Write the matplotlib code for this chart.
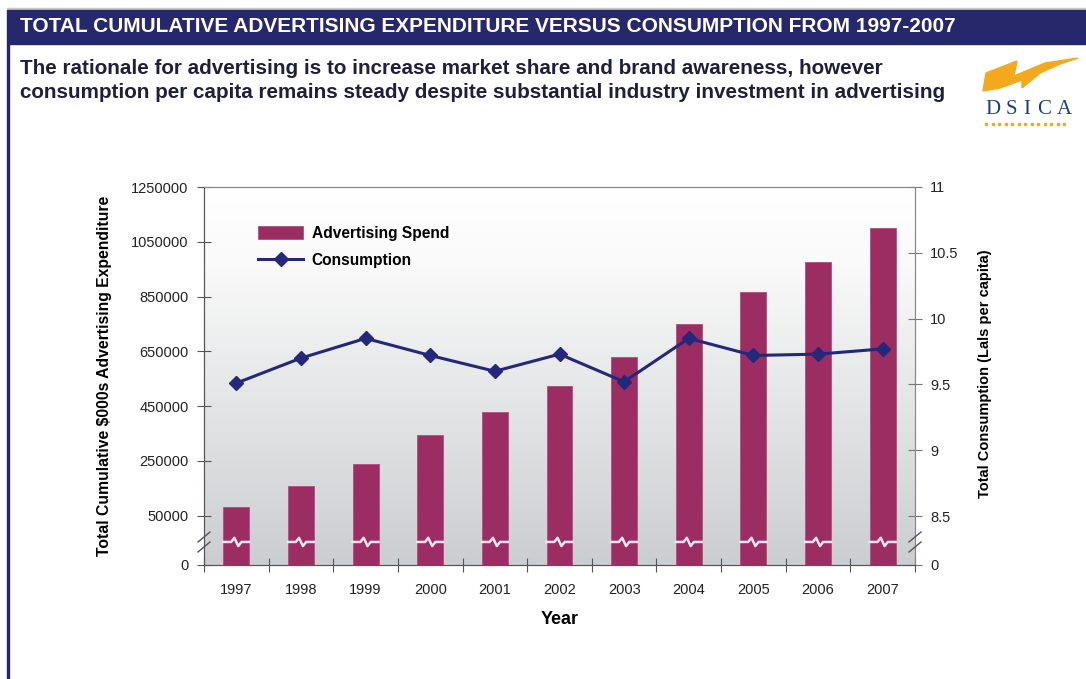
import numpy as np
import matplotlib
matplotlib.use('Agg')
import matplotlib.pyplot as plt
import matplotlib.transforms as mtransforms
from matplotlib.colors import LinearSegmentedColormap
from matplotlib.patches import Rectangle, Polygon, Patch
from matplotlib.lines import Line2D

plt.rcParams['font.family'] = ['Liberation Sans', 'DejaVu Sans']

years = ['1997', '1998', '1999', '2000', '2001', '2002', '2003', '2004', '2005', '2006', '2007']
spend = [80000, 160000, 237000, 343000, 430000, 522000, 628000, 749000, 866000, 976000, 1100000]
consumption = [9.51, 9.70, 9.85, 9.72, 9.60, 9.73, 9.52, 9.85, 9.72, 9.73, 9.77]

left_ticks = [50000, 250000, 450000, 650000, 850000, 1050000, 1250000]
right_ticks = [8.5, 9, 9.5, 10, 10.5, 11]
right_labels = ['8.5', '9', '9.5', '10', '10.5', '11']
# both axes are broken: the bottom of each axis is labelled 0
left_floor = -130000
right_floor = 8.128

title = 'TOTAL CUMULATIVE ADVERTISING EXPENDITURE VERSUS CONSUMPTION FROM 1997-2007'
subtitle = ['The rationale for advertising is to increase market share and brand awareness, however',
            'consumption per capita remains steady despite substantial industry investment in advertising']

navy = '#27276b'
bar_color = '#9b2d62'
line_color = '#23287a'
orange = '#f4a81d'

W, H = 1086, 679
fig = plt.figure(figsize=(W / 100, H / 100), dpi=100)


def fx(x):
    return x / W


def fy(y):
    return 1 - y / H


# header band and left border
fig.patches.append(Rectangle((fx(7), fy(9)), 1, 1 / H, transform=fig.transFigure, color='#c8c8d0', zorder=0))
fig.patches.append(Rectangle((fx(7), fy(44)), 1, 34 / H, transform=fig.transFigure, color=navy, zorder=0))
fig.patches.append(Rectangle((fx(7), 0), 2 / W, fy(44), transform=fig.transFigure, color=navy, zorder=0))
fig.text(fx(20), fy(27), title, color='white', fontsize=15, fontweight='bold', va='center', ha='left')
fig.text(fx(20), fy(68), subtitle[0], color='#1f1f3a', fontsize=14.85, fontweight='bold', va='center')
fig.text(fx(20), fy(93), subtitle[1], color='#1f1f3a', fontsize=14.85, fontweight='bold', va='center')

# logo
swoosh = [(983, 91), (986, 73), (1017, 61), (1014, 76), (1045, 63), (1078, 58),
          (1060, 64), (1040, 73), (1022, 88), (1022, 80), (1000, 88)]
fig.patches.append(Polygon([(fx(a), fy(b)) for a, b in swoosh], closed=True,
                           transform=fig.transFigure, color=orange, zorder=1))
for ch, xpos in zip('DSICA', [993, 1011, 1027, 1044, 1064]):
    fig.text(fx(xpos), fy(110), ch, family=['Liberation Serif'], fontsize=15, color='#1f3f7a',
             ha='center', va='center')
dots = np.arange(986, 1070, 6.5)
fig.lines.append(Line2D(fx(dots), [fy(124)] * len(dots), transform=fig.transFigure,
                        ls='none', marker='o', ms=1.6, color=orange))

# chart
ax = fig.add_axes([fx(204), fy(565), 711 / W, 378 / H])
ax2 = ax.twinx()

grad = LinearSegmentedColormap.from_list('bg', [(0, '#cbced1'), (0.5, '#e8e9ea'), (0.8, '#fafafa'), (1, '#ffffff')])
ax.imshow(np.linspace(1, 0, 256).reshape(-1, 1), cmap=grad, extent=[0, 1, 0, 1],
          transform=ax.transAxes, aspect='auto', zorder=0)

x = np.arange(len(years))
ax.bar(x, [s - left_floor for s in spend], bottom=left_floor, width=0.4, color=bar_color,
       edgecolor='#b04e7e', linewidth=0.6, zorder=2)

# white zig-zag break across each bar
blend = mtransforms.blended_transform_factory(ax.transData, ax.transAxes)
zx = np.array([-0.2, -0.08, -0.03, 0.03, 0.08, 0.2])
zy = 0.061 + np.array([0, 0, 0.011, -0.011, 0, 0])
for xi in x:
    ax.plot(xi + zx, zy, color='#f4e6ee', lw=1.8, transform=blend, zorder=3)

ax.set_xlim(-0.5, len(years) - 0.5)
ax.set_ylim(left_floor, 1250000)
ax.set_yticks([left_floor] + left_ticks)
ax.set_yticklabels(['0'] + [str(t) for t in left_ticks])

ax.set_xticks(np.arange(-0.5, len(years), 1))
ax.set_xticklabels([])
ax.set_xticks(x, minor=True)
ax.set_xticklabels(years, minor=True)
ax.tick_params(axis='x', which='major', direction='inout', length=10, color='#555555')
ax.tick_params(axis='x', which='minor', length=0, pad=13, labelsize=10.5, labelcolor='#222222')
ax.tick_params(axis='y', direction='inout', length=10, color='#555555', labelsize=10.5,
               labelcolor='#222222', pad=6)

ax2.plot(x, consumption, color=line_color, lw=2.2, marker='D', ms=7, zorder=4)
ax2.set_ylim(right_floor, 11)
ax2.set_yticks([right_floor] + right_ticks)
ax2.set_yticklabels(['0'] + right_labels)
ax2.tick_params(axis='y', direction='inout', length=10, color='#777777', labelsize=10.5,
                labelcolor='#222222', pad=6)

for a in (ax, ax2):
    a.spines['top'].set_color('#888888')
    a.spines['left'].set_color('#555555')
    a.spines['bottom'].set_color('#555555')
    a.spines['right'].set_color('#888888')

# break marks on both axes
for xp in (204, 915):
    for yp in (537, 547):
        fig.lines.append(Line2D([fx(xp - 6), fx(xp + 6)], [fy(yp + 5), fy(yp - 5)],
                                transform=fig.transFigure, color='#555555', lw=1))

handles = [Patch(facecolor=bar_color, edgecolor='#b04e7e', linewidth=0.6),
           Line2D([], [], color=line_color, lw=2.2, marker='D', ms=7)]
leg = ax2.legend(handles, ['Advertising Spend', 'Consumption'], loc='upper left',
                 bbox_to_anchor=(0.076, 0.897), borderaxespad=0, borderpad=0, frameon=False,
                 handlelength=2.9, handleheight=0.9, handletextpad=0.55, labelspacing=0.8,
                 prop={'weight': 'bold', 'size': 11.2})

fig.text(fx(105), fy(376), 'Total Cumulative \\$000s Advertising Expenditure', rotation=90,
         fontsize=11.3, fontweight='bold', ha='center', va='center')
fig.text(fx(985), fy(374), 'Total Consumption (Lals per capita)', rotation=90,
         fontsize=10.5, fontweight='bold', ha='center', va='center')
fig.text(fx(560), fy(620), 'Year', fontsize=13, fontweight='bold', ha='center', va='center')

fig.savefig('out.png', dpi=100)
